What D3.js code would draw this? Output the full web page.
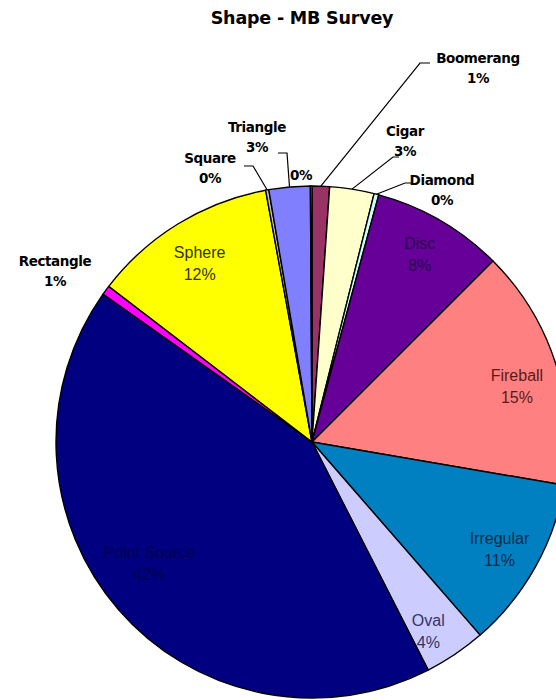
<!DOCTYPE html>
<html>
<head>
<meta charset="utf-8">
<script src="https://cdn.jsdelivr.net/npm/d3@7"></script>
<style>
  html, body { margin: 0; padding: 0; background: #ffffff; }
  svg { display: block; }
</style>
</head>
<body>
<svg id="chart" width="556" height="700"></svg>
<script>
// Survey shares by reported shape (percent), clockwise from 12 o'clock
const categories = ["Boomerang", "Cigar", "Diamond", "Disc", "Fireball", "Irregular",
                    "Oval", "Point Source", "Rectangle", "Sphere", "Square", "Triangle", ""];
const values = [1.1, 2.8, 0.3, 8.3, 15.2, 10.9, 3.9, 42.3, 0.6, 11.7, 0.2, 2.6, 0.1];
const sliceColors = ["#993366", "#FFFFCC", "#CCFFFF", "#660099", "#FF8080", "#0080C0",
                     "#CCCCFF", "#000080", "#FF00FF", "#FFFF00", "#C0C0C0", "#8080FF", "#FFFFFF"];
const title = "Shape - MB Survey";

// Labels drawn inside their slice: text colour and a small nudge from the centroid
const insideText = {
  "Disc":         { color: "#2a0a4a", dx: 0,  dy: -4 },
  "Fireball":     { color: "#5a1a1a", dx: 0,  dy: 7 },
  "Irregular":    { color: "#0a2a4a", dx: 0,  dy: 0 },
  "Oval":         { color: "#333366", dx: -4, dy: 9 },
  "Point Source": { color: "#000050", dx: 0,  dy: -22 },
  "Sphere":       { color: "#333300", dx: 0,  dy: 2 }
};

// Placement of labels set outside the pie: text centre, baseline of first line,
// and the elbow / end of the leader line
const outsideLayout = {
  "Boomerang": { x: 478, y: 63, elbow: [420, 63], end: [430, 63] },
  "Cigar":     { x: 405, y: 136, elbow: [393, 157], end: [399, 157] },
  "Diamond":   { x: 442, y: 185, elbow: [405, 183], end: [411, 183] },
  "Triangle":  { x: 257, y: 132, elbow: [287, 153], end: [278, 153] },
  "Square":    { x: 210, y: 163, elbow: [253, 166], end: [244, 166] },
  "Rectangle": { x: 55,  y: 266 },
  "":          { x: 301, y: 180 }
};

const svg = d3.select("#chart");
const cx = 312, cy = 442, radius = 256;

svg.append("text")
  .attr("x", 302).attr("y", 24)
  .attr("text-anchor", "middle")
  .attr("font-family", "DejaVu Sans, Arial, sans-serif")
  .attr("font-weight", "bold")
  .attr("font-size", 17.5)
  .attr("letter-spacing", -0.2)
  .attr("fill", "#000")
  .text(title);

const total = d3.sum(values);
const data = categories.map((c, i) => ({ name: c, value: values[i], color: sliceColors[i] }));

const pie = d3.pie().sort(null).value(d => d.value).startAngle(0).endAngle(2 * Math.PI);
const arcs = pie(data);
const arc = d3.arc().innerRadius(0).outerRadius(radius);

const g = svg.append("g").attr("transform", `translate(${cx},${cy})`);

g.selectAll("path.slice")
  .data(arcs)
  .join("path")
  .attr("class", "slice")
  .attr("d", arc)
  .attr("fill", d => d.data.color)
  .attr("stroke", "#000")
  .attr("stroke-width", 1.4)
  .attr("stroke-linejoin", "round");

const pct = d => Math.round(d.data.value / total * 100) + "%";

// Inside labels
const labelArc = d3.arc().innerRadius(radius * 0.84).outerRadius(radius * 0.84);
const inside = g.selectAll("g.inlabel")
  .data(arcs.filter(d => insideText[d.data.name]))
  .join("g")
  .attr("class", "inlabel")
  .attr("transform", d => {
    const [x, y] = labelArc.centroid(d);
    const s = insideText[d.data.name];
    return `translate(${x + s.dx},${y + s.dy})`;
  });
inside.append("text")
  .attr("text-anchor", "middle")
  .attr("font-family", "Liberation Sans, Arial, sans-serif")
  .attr("font-size", 16)
  .attr("fill", d => insideText[d.data.name].color)
  .selectAll("tspan")
  .data(d => [d.data.name, pct(d)])
  .join("tspan")
  .attr("x", 0)
  .attr("y", (t, i) => i === 0 ? -3 : 19)
  .text(t => t);

// Outside labels with leader lines
const edgeArc = d3.arc().innerRadius(radius).outerRadius(radius);
const outside = arcs.filter(d => !insideText[d.data.name]);

outside.forEach(d => {
  const lay = outsideLayout[d.data.name];
  if (lay.elbow) {
    const [ex, ey] = edgeArc.centroid(d);
    svg.append("polyline")
      .attr("points", [[cx + ex, cy + ey], lay.elbow, lay.end].map(p => p.join(",")).join(" "))
      .attr("fill", "none")
      .attr("stroke", "#000")
      .attr("stroke-width", 1.2);
  }
  const lines = d.data.name ? [d.data.name, pct(d)] : [pct(d)];
  svg.append("text")
    .attr("text-anchor", "middle")
    .attr("font-family", "DejaVu Sans, Arial, sans-serif")
    .attr("font-weight", "bold")
    .attr("font-size", 13.5)
    .attr("letter-spacing", -0.4)
    .attr("fill", "#000")
    .selectAll("tspan")
    .data(lines)
    .join("tspan")
    .attr("x", lay.x)
    .attr("y", (t, i) => lay.y + i * 20)
    .text(t => t);
});
</script>
</body>
</html>
